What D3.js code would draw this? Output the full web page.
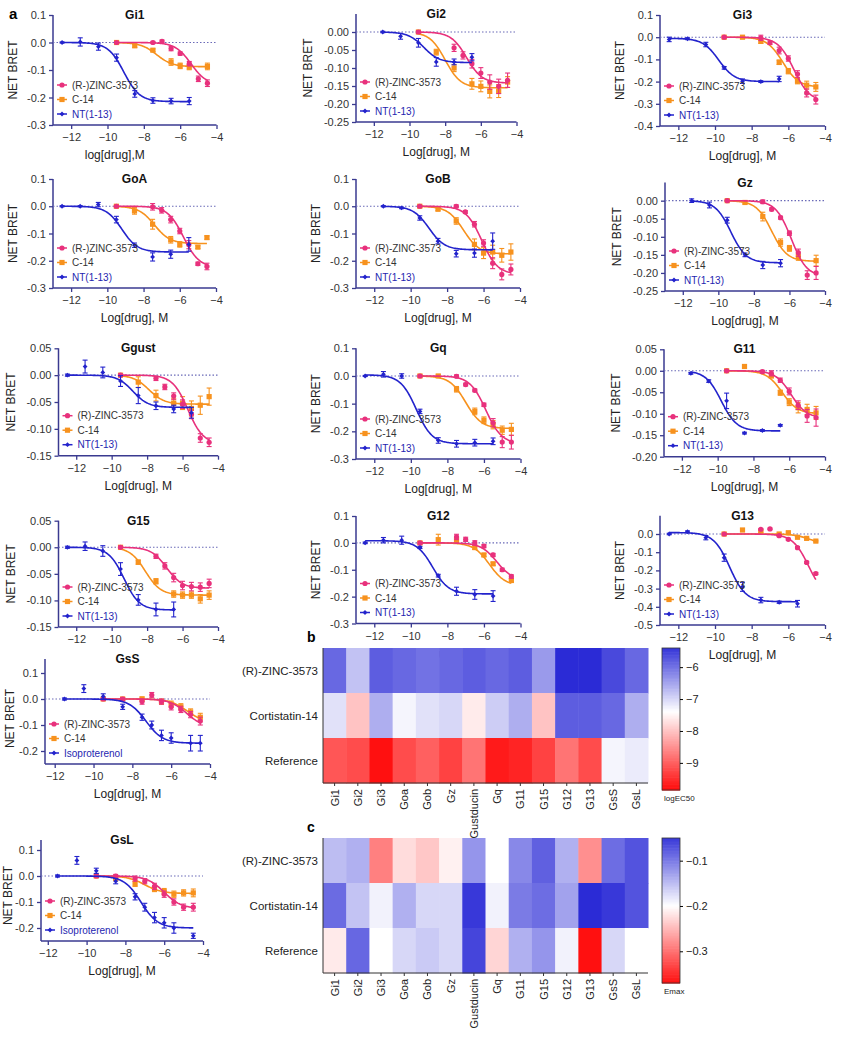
<!DOCTYPE html>
<html><head><meta charset="utf-8">
<script src="https://cdn.jsdelivr.net/npm/d3@7"></script>
<style>body{margin:0;background:#fff}svg{display:block}text{font-family:"Liberation Sans",Arial,sans-serif}</style>
</head><body>
<svg id="chart" width="846" height="1050"></svg>
<script>
// ---------------- DATA ----------------
const panelNames = ["Gi1","Gi2","Gi3","GoA","GoB","Gz","Ggust","Gq","G11","G15","G12","G13","GsS","GsL"];
const legendZinc = ["(R-)ZINC-3573","(R)-ZINC-3573","(R)-ZINC-3573","(R-)ZINC-3573","(R)-ZINC-3573","(R)-ZINC-3573","(R)-ZINC-3573","(R)-ZINC-3573","(R)-ZINC-3573","(R)-ZINC-3573","(R)-ZINC-3573","(R)-ZINC-3573","(R)-ZINC-3573","(R)-ZINC-3573"];
const legendRef = ["NT(1-13)","NT(1-13)","NT(1-13)","NT(1-13)","NT(1-13)","NT(1-13)","NT(1-13)","NT(1-13)","NT(1-13)","NT(1-13)","NT(1-13)","NT(1-13)","Isoproterenol","Isoproterenol"];
const xAxisTitles = ["log[drug],M","Log[drug], M","Log[drug], M","Log[drug], M","Log[drug], M","Log[drug], M","Log[drug], M","Log[drug], M","Log[drug], M","","Log[drug], M","Log[drug], M","Log[drug], M","Log[drug], M"];
const xTicks = [-12,-10,-8,-6,-4];

// points: [log dose, net BRET, error]
const Gi1 = {
  zinc:[[-9.5,0,0.003],[-7.5,0,0.004],[-7,0.004,0.005],[-6.5,-0.022,0.008],[-6,-0.04,0.006],[-5.5,-0.077,0.008],[-5,-0.132,0.01],[-4.5,-0.148,0.012]],
  c14:[[-9.5,0,0.003],[-8.5,-0.012,0.006],[-7.5,-0.028,0.005],[-6.5,-0.071,0.012],[-6,-0.085,0.01],[-5.5,-0.089,0.01],[-4.5,-0.087,0.012]],
  ref:[[-12.5,0,0.002],[-11.5,0.002,0.015],[-10.5,-0.015,0.013],[-9.5,-0.055,0.013],[-8.5,-0.187,0.012],[-7.5,-0.211,0.01],[-6.5,-0.213,0.01],[-5.5,-0.213,0.013]]};
const Gi2 = {
  zinc:[[-9.5,0,0.003],[-7.5,-0.044,0.01],[-7,-0.065,0.01],[-6.5,-0.088,0.012],[-6,-0.114,0.015],[-5.5,-0.139,0.02],[-5,-0.151,0.02],[-4.5,-0.134,0.02]],
  c14:[[-9.5,0,0.003],[-8.5,-0.056,0.008],[-7.5,-0.1,0.01],[-6.5,-0.144,0.015],[-6,-0.151,0.015],[-5.5,-0.165,0.018],[-5,-0.164,0.018],[-4.5,-0.139,0.015]],
  ref:[[-11.5,0,0.002],[-10.5,-0.012,0.008],[-9.5,-0.03,0.012],[-8.5,-0.083,0.012],[-7.5,-0.083,0.008],[-6.5,-0.07,0.01]]};
const Gi3 = {
  zinc:[[-9.5,0,0.003],[-7.5,-0.003,0.012],[-7,-0.025,0.008],[-6.5,-0.06,0.015],[-6,-0.096,0.012],[-5.5,-0.166,0.015],[-5,-0.251,0.018],[-4.5,-0.281,0.02]],
  c14:[[-9.5,0,0.003],[-8.5,0,0.003],[-7.5,-0.018,0.01],[-6.5,-0.113,0.01],[-6,-0.153,0.012],[-5.5,-0.198,0.012],[-5,-0.216,0.018],[-4.5,-0.224,0.02]],
  ref:[[-12.5,-0.01,0.01],[-11.5,-0.007,0.004],[-10.5,-0.033,0.01],[-9.5,-0.138,0.006],[-8.5,-0.198,0.01],[-7.5,-0.2,0.004],[-6.5,-0.188,0.012]]};
const GoA = {
  zinc:[[-9.5,0,0.003],[-7.5,-0.002,0.012],[-7,-0.015,0.01],[-6.5,-0.049,0.012],[-6,-0.091,0.01],[-5.5,-0.141,0.015],[-5,-0.211,0.006],[-4.5,-0.221,0.012]],
  c14:[[-9.5,0,0.003],[-8.5,-0.017,0.012],[-7.5,-0.066,0.018],[-6.5,-0.123,0.012],[-6,-0.14,0.01],[-5,-0.15,0.005],[-4.5,-0.115,0.006]],
  ref:[[-12.5,0,0.002],[-11.5,0,0.002],[-10.5,0.006,0.008],[-9.5,-0.049,0.012],[-8.5,-0.143,0.008],[-7.5,-0.186,0.015],[-6.5,-0.176,0.015],[-5.5,-0.14,0.025]]};
const GoB = {
  zinc:[[-9.5,0,0.003],[-7.5,0,0.005],[-7,-0.021,0.005],[-6.5,-0.066,0.01],[-6,-0.135,0.012],[-5.5,-0.209,0.02],[-5,-0.25,0.02],[-4.5,-0.232,0.02]],
  c14:[[-9.5,0,0.003],[-8.5,-0.011,0.005],[-7.5,-0.054,0.012],[-6.5,-0.14,0.02],[-6,-0.172,0.02],[-5.5,-0.168,0.025],[-5,-0.18,0.025],[-4.5,-0.168,0.03]],
  ref:[[-11.5,0,0.002],[-10.5,-0.006,0.003],[-9.5,-0.043,0.008],[-8.5,-0.128,0.01],[-7.5,-0.174,0.012],[-6.5,-0.172,0.015],[-5.5,-0.128,0.03]]};
const Gz = {
  zinc:[[-9.5,0,0.002],[-7.5,-0.003,0.005],[-7,-0.024,0.004],[-6.5,-0.047,0.004],[-6,-0.09,0.006],[-5.5,-0.144,0.01],[-5,-0.206,0.012],[-4.5,-0.2,0.018]],
  c14:[[-9.5,0,0.002],[-8.5,-0.005,0.004],[-7.5,-0.044,0.012],[-6.5,-0.116,0.01],[-6,-0.132,0.008],[-5.5,-0.155,0.01],[-4.5,-0.166,0.015]],
  ref:[[-11.5,0,0.005],[-10.5,-0.012,0.008],[-9.5,-0.054,0.008],[-8.5,-0.15,0.005],[-7.5,-0.178,0.01],[-6.5,-0.173,0.01]]};
const Ggust = {
  zinc:[[-9.5,0,0.002],[-7.5,-0.006,0.004],[-7,-0.022,0.005],[-6.5,-0.039,0.006],[-6,-0.054,0.008],[-5.5,-0.073,0.008],[-5,-0.117,0.008],[-4.5,-0.125,0.008]],
  c14:[[-9.5,0,0.002],[-8.5,-0.013,0.01],[-7.5,-0.038,0.01],[-6.5,-0.052,0.008],[-6,-0.052,0.012],[-5.5,-0.062,0.014],[-5,-0.056,0.017],[-4.5,-0.04,0.016]],
  ref:[[-12.5,0,0.002],[-11.5,0.016,0.012],[-10.5,0.005,0.01],[-9.5,-0.011,0.01],[-8.5,-0.038,0.015],[-7.5,-0.057,0.007],[-6.5,-0.063,0.007],[-5.5,-0.07,0.01]]};
const Gq = {
  zinc:[[-9.5,0,0.003],[-7.5,-0.001,0.005],[-7,-0.031,0.005],[-6.5,-0.052,0.005],[-6,-0.104,0.006],[-5.5,-0.169,0.015],[-5,-0.239,0.02],[-4.5,-0.239,0.025]],
  c14:[[-9.5,0,0.003],[-8.5,0,0.004],[-7.5,-0.048,0.01],[-6.5,-0.128,0.012],[-6,-0.16,0.012],[-5.5,-0.176,0.015],[-5,-0.196,0.015],[-4.5,-0.193,0.022]],
  ref:[[-12.5,0,0.002],[-11.5,0.006,0.01],[-10.5,0,0.008],[-9.5,-0.128,0.008],[-8.5,-0.233,0.01],[-7.5,-0.245,0.012],[-6.5,-0.241,0.012],[-5.5,-0.236,0.012]]};
const G11 = {
  zinc:[[-9.5,0,0.002],[-7.5,-0.002,0.003],[-7,-0.006,0.006],[-6.5,-0.022,0.005],[-6,-0.048,0.008],[-5.5,-0.08,0.01],[-5,-0.105,0.015],[-4.5,-0.109,0.02]],
  c14:[[-9.5,0,0.002],[-8.5,0.01,0.003],[-7,-0.012,0.004],[-6.5,-0.051,0.006],[-6,-0.073,0.008],[-5.5,-0.086,0.012],[-5,-0.09,0.012],[-4.5,-0.098,0.015]],
  ref:[[-11.5,-0.006,0.002],[-10.5,-0.024,0.003],[-9.5,-0.07,0.018],[-8.5,-0.145,0.002],[-7.5,-0.139,0.002],[-6.5,-0.127,0.002]]};
const G15 = {
  zinc:[[-9.5,0,0.002],[-7.5,-0.017,0.004],[-7,-0.035,0.006],[-6.5,-0.057,0.008],[-6,-0.072,0.008],[-5.5,-0.074,0.008],[-5,-0.075,0.008],[-4.5,-0.068,0.008]],
  c14:[[-9.5,0,0.002],[-8.5,-0.028,0.004],[-7.5,-0.064,0.005],[-6.5,-0.088,0.006],[-6,-0.09,0.006],[-5.5,-0.09,0.006],[-5,-0.097,0.008],[-4.5,-0.09,0.008]],
  ref:[[-12.5,0,0.002],[-11.5,0.002,0.008],[-10.5,-0.007,0.01],[-9.5,-0.041,0.012],[-8.5,-0.099,0.01],[-7.5,-0.117,0.012],[-6.5,-0.117,0.014]]};
const G12 = {
  zinc:[[-9.5,0,0.004],[-7.5,0.022,0.01],[-7,0.013,0.008],[-6.5,0,0.008],[-6,-0.012,0.006],[-5.5,-0.045,0.006],[-5,-0.1,0.006],[-4.5,-0.125,0.006]],
  c14:[[-9.5,0,0.004],[-8.5,0.012,0.02],[-7.5,0.01,0.01],[-6.5,-0.017,0.008],[-6,-0.045,0.006],[-5.5,-0.078,0.006],[-4.5,-0.14,0.006]],
  ref:[[-12.5,0,0.003],[-11.5,0.01,0.01],[-10.5,0.01,0.015],[-9.5,-0.017,0.004],[-8.5,-0.122,0.005],[-7.5,-0.18,0.015],[-6.5,-0.192,0.018],[-5.5,-0.198,0.02]]};
const G13 = {
  zinc:[[-9.5,0,0.004],[-7.5,0.026,0.004],[-7,0.028,0.004],[-6.5,-0.009,0.006],[-6,-0.029,0.006],[-5.5,-0.075,0.006],[-5,-0.156,0.006],[-4.5,-0.217,0.006]],
  c14:[[-9.5,0,0.004],[-8.5,0.022,0.004],[-7.5,0.013,0.004],[-6.5,0,0.004],[-6,0.007,0.004],[-5.5,-0.018,0.004],[-5,-0.024,0.004],[-4.5,-0.039,0.004]],
  ref:[[-12.5,0,0.004],[-11.5,0.013,0.004],[-10.5,-0.02,0.012],[-9.5,-0.13,0.02],[-8.5,-0.29,0.025],[-7.5,-0.363,0.015],[-6.5,-0.375,0.006],[-5.5,-0.383,0.018]]};
const GsS = {
  zinc:[[-9.5,0,0.004],[-8.5,0,0.006],[-7.5,-0.01,0.01],[-7,0.015,0.01],[-6.5,-0.01,0.01],[-6,-0.03,0.012],[-5.5,-0.04,0.012],[-5,-0.06,0.012],[-4.5,-0.085,0.015]],
  c14:[[-9.5,0,0.004],[-8.5,0,0.006],[-7.5,0,0.008],[-6.5,-0.01,0.01],[-6,-0.02,0.012],[-5.5,-0.03,0.012],[-5,-0.05,0.012],[-4.5,-0.07,0.015]],
  ref:[[-11.5,0,0.004],[-10.5,0.04,0.015],[-9.5,0.01,0.01],[-8.5,-0.03,0.01],[-7.5,-0.07,0.012],[-7,-0.1,0.015],[-6.5,-0.14,0.02],[-6,-0.15,0.02],[-5,-0.17,0.03],[-4.5,-0.17,0.03]]};
const GsL = {
  zinc:[[-9.5,0,0.004],[-8.5,0,0.006],[-7.5,-0.01,0.01],[-7,-0.02,0.01],[-6.5,-0.04,0.012],[-6,-0.07,0.012],[-5.5,-0.1,0.012],[-5,-0.12,0.012],[-4.5,-0.12,0.015]],
  c14:[[-9.5,0,0.004],[-8.5,-0.01,0.006],[-7.5,-0.03,0.01],[-6.5,-0.05,0.01],[-6,-0.06,0.012],[-5.5,-0.07,0.012],[-5,-0.065,0.012],[-4.5,-0.065,0.015]],
  ref:[[-11.5,0,0.004],[-10.5,0.06,0.015],[-9.5,0.02,0.01],[-8.5,-0.02,0.01],[-7.5,-0.08,0.012],[-7,-0.12,0.015],[-6.5,-0.16,0.02],[-6,-0.18,0.02],[-5.5,-0.2,0.02],[-4.5,-0.23,0.01]]};
const panelData = [Gi1,Gi2,Gi3,GoA,GoB,Gz,Ggust,Gq,G11,G15,G12,G13,GsS,GsL];

// fitted curve parameters per panel: logEC50 and bottom (top = 0 unless noted)
const fitZincEC50 = [-5.4,-6.8,-5.7,-5.8,-6.1,-5.9,-5.7,-5.9,-5.9,-6.9,-5.3,-4.9,-5.2,-6.0];
const fitZincBottom = [-0.155,-0.142,-0.29,-0.225,-0.25,-0.21,-0.128,-0.245,-0.11,-0.077,-0.14,-0.35,-0.11,-0.125];
const fitC14EC50 = [-7.3,-8.0,-6.3,-7.4,-7.1,-7.0,-7.9,-7.0,-6.4,-8.1,-5.7,-4.8,-5.2,-7.0];
const fitC14Bottom = [-0.088,-0.155,-0.225,-0.137,-0.175,-0.168,-0.054,-0.19,-0.1,-0.09,-0.16,-0.06,-0.09,-0.067];
const fitRefEC50 = [-9.1,-9.2,-9.8,-9.2,-9.0,-9.3,-8.8,-9.7,-9.8,-9.3,-8.8,-9.2,-7.3,-7.2];
const fitRefBottom = [-0.215,-0.085,-0.2,-0.168,-0.16,-0.172,-0.06,-0.245,-0.14,-0.118,-0.19,-0.372,-0.17,-0.2];
const fitRefTop = [0,0,-0.005,0,0,0,0,0.004,0,0,0.008,0.008,0,0];

// heatmaps
const heatColumns = ["Gi1","Gi2","Gi3","Goa","Gob","Gz","Gustducin","Gq","G11","G15","G12","G13","GsS","GsL"];
const heatRows = ["(R)-ZINC-3573","Cortistatin-14","Reference"];
const ec50Zinc = [-5.9,-6.8,-5.8,-5.9,-6.0,-5.9,-5.8,-5.9,-5.8,-6.4,-5.3,-5.3,-5.6,-5.9];
const ec50C14 = [-7.1,-8.0,-6.6,-7.3,-7.1,-7.0,-7.6,-6.9,-6.6,-8.0,-5.8,-5.8,-5.9,-6.6];
const ec50Ref = [-9.1,-9.2,-9.8,-9.2,-9.0,-9.3,-8.8,-9.7,-9.6,-9.3,-8.8,-9.2,-7.3,-7.2];
const emaxZinc = [-0.15,-0.14,-0.29,-0.225,-0.24,-0.21,-0.12,-0.2,-0.11,-0.08,-0.14,-0.28,-0.09,-0.07];
const emaxC14 = [-0.088,-0.155,-0.19,-0.14,-0.17,-0.17,-0.05,-0.19,-0.1,-0.09,-0.13,-0.04,-0.05,-0.07];
const emaxRef = [-0.215,-0.085,-0.2,-0.17,-0.16,-0.17,-0.06,-0.23,-0.14,-0.12,-0.19,-0.372,-0.17,-0.2];
const ec50Ticks = [-6,-7,-8,-9];
const emaxTicks = [-0.1,-0.2,-0.3];

// ---------------- LAYOUT ----------------
const FONT = '"Liberation Sans", Arial, sans-serif';
const colors = {zinc:"#e8317c", c14:"#f7921e", ref:"#2323cc"};
const axisColor = "#3a3a90";
const layouts = [
  {x0:53,x1:216.5,yb:125,yt:15,yd:[-0.3,0.1],yt_:[-0.3,-0.2,-0.1,0,0.1],f:".1f",xd:[-13,-4],yl:36},
  {x0:356,x1:516.5,yb:122,yt:14,yd:[-0.25,0.05],yt_:[-0.25,-0.2,-0.15,-0.1,-0.05,0],f:".2f",xd:[-13,-4],yl:44},
  {x0:660,x1:825,yb:126,yt:15,yd:[-0.4,0.1],yt_:[-0.4,-0.3,-0.2,-0.1,0,0.1],f:".1f",xd:[-13,-4],yl:36},
  {x0:53,x1:216,yb:288,yt:179,yd:[-0.3,0.1],yt_:[-0.3,-0.2,-0.1,0,0.1],f:".1f",xd:[-13,-4],yl:36},
  {x0:356,x1:520,yb:288,yt:179,yd:[-0.3,0.1],yt_:[-0.3,-0.2,-0.1,0,0.1],f:".1f",xd:[-13,-4],yl:36},
  {x0:665,x1:825,yb:291,yt:182.6,yd:[-0.25,0.05],yt_:[-0.25,-0.2,-0.15,-0.1,-0.05,0],f:".2f",xd:[-13,-4],yl:44},
  {x0:58.5,x1:218,yb:455.7,yt:348.3,yd:[-0.15,0.05],yt_:[-0.15,-0.1,-0.05,0,0.05],f:".2f",xd:[-13,-4],yl:44},
  {x0:356,x1:520.5,yb:459,yt:348.3,yd:[-0.3,0.1],yt_:[-0.3,-0.2,-0.1,0,0.1],f:".1f",xd:[-13,-4],yl:36},
  {x0:664,x1:825,yb:456.7,yt:349.3,yd:[-0.2,0.05],yt_:[-0.2,-0.15,-0.1,-0.05,0,0.05],f:".2f",xd:[-13,-4],yl:44},
  {x0:58.5,x1:218,yb:627,yt:520.7,yd:[-0.15,0.05],yt_:[-0.15,-0.1,-0.05,0,0.05],f:".2f",xd:[-13,-4],yl:44},
  {x0:356,x1:520.5,yb:623.5,yt:516,yd:[-0.3,0.1],yt_:[-0.3,-0.2,-0.1,0,0.1],f:".1f",xd:[-13,-4],yl:36},
  {x0:660,x1:825,yb:625,yt:515.8,yd:[-0.5,0.1],yt_:[-0.5,-0.4,-0.3,-0.2,-0.1,0],f:".1f",xd:[-13,-4],yl:36},
  {x0:45,x1:210,yb:764,yt:673,yd:[-0.25,0.1],yt_:[-0.2,-0.1,0,0.1],f:".1f",xd:[-12.5,-4],yl:31,tt:-14},
  {x0:41,x1:203,yb:941,yt:850,yd:[-0.25,0.1],yt_:[-0.2,-0.1,0,0.1],f:".1f",xd:[-12.35,-4],yl:29,tt:-10}
];

const svg = d3.select("#chart");
svg.append("rect").attr("width",846).attr("height",1050).attr("fill","#fff");

const fmtTick = (f) => (v) => d3.format(f)(v).replace("−","-");

function sigmoid(x, top, bottom, ec50){
  return top + (bottom - top) / (1 + Math.pow(10, (ec50 - x)));
}

function marker(g, type, cx, cy, color){
  if(type==="zinc") g.append("circle").attr("cx",cx).attr("cy",cy).attr("r",2.6).attr("fill",color);
  else if(type==="c14") g.append("rect").attr("x",cx-2.6).attr("y",cy-2.6).attr("width",5.2).attr("height",5.2).attr("fill",color);
  else g.append("path").attr("d",`M${cx},${cy-2.4}L${cx+2.4},${cy}L${cx},${cy+2.4}L${cx-2.4},${cy}Z`).attr("fill",color);
}

panelNames.forEach((name, i) => {
  const L = layouts[i], D = panelData[i];
  const g = svg.append("g");
  const x = d3.scaleLinear().domain(L.xd).range([L.x0, L.x1]);
  const y = d3.scaleLinear().domain(L.yd).range([L.yb, L.yt]);
  const axTop = L.yt + (L.tt || 0);

  const yAx = g.append("g").attr("transform",`translate(${L.x0},0)`)
    .call(d3.axisLeft(y).tickValues(L.yt_).tickFormat(fmtTick(L.f)).tickSize(4).tickSizeOuter(0));
  yAx.select(".domain").attr("stroke",axisColor).attr("stroke-width",1.5).attr("d",`M0,${L.yb}V${axTop}`);
  const xAx = g.append("g").attr("transform",`translate(0,${L.yb})`)
    .call(d3.axisBottom(x).tickValues(xTicks).tickFormat(d3.format("d")).tickSize(4).tickSizeOuter(0));
  xAx.select(".domain").attr("stroke",axisColor).attr("stroke-width",1.5).attr("d",`M${L.x0},0H${L.x1}`);
  [yAx,xAx].forEach(a=>{
    a.selectAll(".tick line").attr("stroke",axisColor).attr("stroke-width",1.3);
    a.selectAll(".tick text").attr("fill","#333").attr("font-size",11).attr("font-family",FONT);
  });
  xAx.selectAll(".tick text").attr("dy","0.85em");

  g.append("line").attr("x1",L.x0).attr("x2",L.x1).attr("y1",y(0)).attr("y2",y(0))
    .attr("stroke","#6a6ab8").attr("stroke-width",1.1).attr("stroke-dasharray","1.5,2");

  g.append("text").attr("x",(L.x0+L.x1)/2).attr("y",axTop+4).attr("text-anchor","middle")
    .attr("font-weight","bold").attr("font-size",12).attr("fill","#111").attr("font-family",FONT).text(name);
  g.append("text").attr("transform",`translate(${L.x0-L.yl},${(L.yt+L.yb)/2}) rotate(-90)`).attr("text-anchor","middle")
    .attr("font-size",12).attr("fill","#222").attr("font-family",FONT).text("NET BRET");
  if (xAxisTitles[i]) {
    g.append("text").attr("x",(L.x0+L.x1)/2 + (i===0?-20:0)).attr("y",L.yb+34).attr("text-anchor","middle")
      .attr("font-size",12).attr("fill","#222").attr("font-family",FONT).text(xAxisTitles[i]);
  }

  const fits = {
    zinc:{ec:fitZincEC50[i], b:fitZincBottom[i], t:0},
    c14:{ec:fitC14EC50[i], b:fitC14Bottom[i], t:0},
    ref:{ec:fitRefEC50[i], b:fitRefBottom[i], t:fitRefTop[i]}
  };
  ["c14","zinc","ref"].forEach(s => {
    const pts = D[s], col = colors[s], F = fits[s];
    const xs = d3.range(pts[0][0], pts[pts.length-1][0]+0.001, 0.05);
    g.append("path").datum(xs)
      .attr("d", d3.line().x(v=>x(v)).y(v=>y(sigmoid(v,F.t,F.b,F.ec))))
      .attr("fill","none").attr("stroke",col).attr("stroke-width",1.6);
    pts.forEach(p => {
      const cx = x(p[0]);
      g.append("line").attr("x1",cx).attr("x2",cx).attr("y1",y(p[1]-p[2])).attr("y2",y(p[1]+p[2])).attr("stroke",col).attr("stroke-width",1.1);
      [p[1]-p[2], p[1]+p[2]].forEach(v => g.append("line").attr("x1",cx-2.5).attr("x2",cx+2.5).attr("y1",y(v)).attr("y2",y(v)).attr("stroke",col).attr("stroke-width",1.1));
      marker(g, s, cx, y(p[1]), col);
    });
  });

  const labels = [legendZinc[i], "C-14", legendRef[i]];
  ["zinc","c14","ref"].forEach((s, k) => {
    const ly = L.yb - 11 - (2-k)*14.5;
    const lx = L.x0 + 4;
    g.append("line").attr("x1",lx).attr("x2",lx+10).attr("y1",ly).attr("y2",ly).attr("stroke",colors[s]).attr("stroke-width",1.5);
    marker(g, s, lx+5, ly, colors[s]);
    g.append("text").attr("x",lx+15).attr("y",ly+3.5).attr("font-size",10).attr("font-family",FONT)
      .attr("fill", s==="ref" ? "#2525b0" : "#333").text(labels[k]);
  });
});

svg.append("text").attr("x",9).attr("y",19).attr("font-weight","bold").attr("font-size",15).attr("font-family",FONT).text("a");

// ---------------- HEATMAPS ----------------
function heatmap(opts){
  const g = svg.append("g");
  const xb = d3.scaleBand().domain(heatColumns).range([opts.x0, opts.x1]);
  const yb = d3.scaleBand().domain(heatRows).range([opts.y0, opts.y1]);
  const color = d3.scaleLinear().domain(opts.cd).range(["#ff1010","#ffffff","#2b2bd6"]).clamp(true);
  opts.rows.forEach((vals, r) => {
    vals.forEach((v, c) => {
      g.append("rect").attr("x",xb(heatColumns[c])).attr("y",yb(heatRows[r]))
        .attr("width",xb.bandwidth()+0.5).attr("height",yb.bandwidth()+0.5).attr("fill",color(v));
    });
  });
  heatRows.forEach(rn => g.append("text").attr("x",opts.x0-5).attr("y",yb(rn)+yb.bandwidth()/2+4)
    .attr("text-anchor","end").attr("font-size",11.5).attr("fill","#222").attr("font-family",FONT).text(rn));
  heatColumns.forEach(cn => {
    const cx = xb(cn)+xb.bandwidth()/2;
    g.append("line").attr("x1",cx).attr("x2",cx).attr("y1",opts.y1).attr("y2",opts.y1+3).attr("stroke","#333");
    g.append("text").attr("transform",`translate(${cx+4},${opts.y1+6}) rotate(-90)`).attr("text-anchor","end")
      .attr("font-size",11).attr("fill","#222").attr("font-family",FONT).text(cn);
  });
  g.append("line").attr("x1",opts.x0).attr("x2",opts.x1).attr("y1",opts.y1).attr("y2",opts.y1).attr("stroke","#333");
  g.append("line").attr("x1",opts.x0).attr("x2",opts.x0).attr("y1",opts.y0).attr("y2",opts.y1).attr("stroke","#333");
  const cb = d3.scaleLinear().domain(opts.cbDomain).range([opts.cbY0, opts.cbY1]);
  d3.range(0, 100).forEach(k => {
    const v0 = opts.cbDomain[0] + (opts.cbDomain[1]-opts.cbDomain[0])*k/100;
    const v1 = opts.cbDomain[0] + (opts.cbDomain[1]-opts.cbDomain[0])*(k+1)/100;
    g.append("rect").attr("x",opts.cbX).attr("width",18).attr("y",cb(v0)).attr("height",cb(v1)-cb(v0)+0.6).attr("fill",color((v0+v1)/2));
  });
  g.append("rect").attr("x",opts.cbX).attr("width",18).attr("y",opts.cbY0).attr("height",opts.cbY1-opts.cbY0).attr("fill","none").attr("stroke","#333").attr("stroke-width",0.8);
  const cax = g.append("g").attr("transform",`translate(${opts.cbX+18},0)`)
    .call(d3.axisRight(cb).tickValues(opts.ticks).tickFormat(opts.tf).tickSize(3).tickSizeOuter(0));
  cax.select(".domain").remove();
  cax.selectAll(".tick text").attr("font-size",11).attr("fill","#222").attr("font-family",FONT);
  g.append("text").attr("x",opts.cbX+2).attr("y",opts.cbY1+11).attr("font-size",8).attr("fill","#222").attr("font-family",FONT).text(opts.cbLabel);
  g.append("text").attr("x",opts.x0-16).attr("y",opts.y0-6).attr("font-weight","bold").attr("font-size",14).attr("font-family",FONT).text(opts.letter);
}

heatmap({x0:323,x1:648,y0:648,y1:783,rows:[ec50Zinc,ec50C14,ec50Ref],cd:[-9.8,-7.4,-5.3],
  cbX:662,cbY0:648,cbY1:790,cbDomain:[-5.4,-9.85],ticks:ec50Ticks,tf:d3.format("d"),cbLabel:"logEC50",letter:"b"});
heatmap({x0:323,x1:648,y0:838,y1:973,rows:[emaxZinc,emaxC14,emaxRef],cd:[-0.37,-0.2,-0.04],
  cbX:662,cbY0:838,cbY1:983,cbDomain:[-0.05,-0.37],ticks:emaxTicks,tf:d3.format(".1f"),cbLabel:"Emax",letter:"c"});
</script>
</body></html>
